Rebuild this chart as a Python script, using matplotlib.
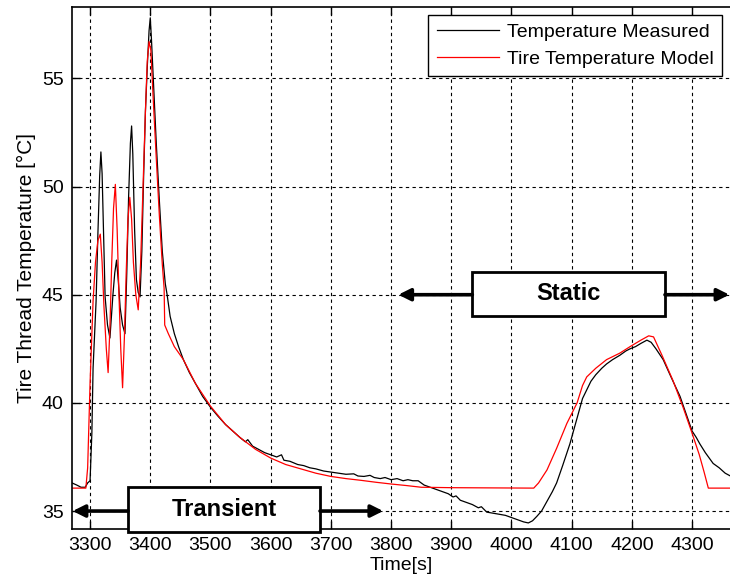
import matplotlib
matplotlib.use("Agg")
import matplotlib.pyplot as plt
from matplotlib.patches import Rectangle

plt.rcParams['font.family'] = ['Liberation Sans', 'DejaVu Sans']

# measured tire thread temperature (black)
meas_t = [3270, 3278, 3285, 3292, 3296, 3300, 3303, 3305, 3308, 3310, 3313, 3316, 3318, 3320,
          3322, 3325, 3329, 3333, 3336, 3338, 3341, 3344, 3347, 3350, 3354, 3358, 3361, 3364,
          3367, 3369, 3371, 3374, 3377, 3380, 3383, 3386, 3389, 3392, 3395, 3398, 3400, 3402,
          3405, 3410, 3415, 3420, 3425, 3428, 3433, 3440, 3447, 3455, 3465, 3475, 3487, 3500,
          3512, 3525, 3537, 3549, 3558, 3562, 3570, 3580, 3590, 3600, 3610, 3618, 3622, 3632,
          3645, 3655, 3665, 3675, 3688, 3700, 3712, 3725, 3738, 3745, 3755, 3765, 3772, 3782,
          3790, 3800, 3810, 3820, 3828, 3836, 3845, 3855, 3865, 3875, 3885, 3895, 3903, 3908,
          3915, 3925, 3935, 3945, 3950, 3959, 3970, 3980, 3990, 4000, 4010, 4020, 4028, 4035,
          4042, 4050, 4060, 4068, 4075, 4085, 4097, 4105, 4112, 4118, 4125, 4132, 4140, 4150,
          4158, 4168, 4180, 4190, 4197, 4206, 4215, 4225, 4232, 4240, 4252, 4265, 4280, 4290,
          4300, 4307, 4313, 4322, 4335, 4345, 4355, 4365]
meas_T = [36.3, 36.2, 36.1, 36.1, 36.3, 36.4, 38.6, 41.6, 43.5, 44.7, 47.8, 50.5, 51.6, 50.6,
          48.4, 44.9, 43.6, 43.0, 44.2, 45.0, 46.0, 46.6, 45.6, 44.4, 43.6, 43.2, 46.0, 49.5,
          52.0, 52.8, 51.5, 48.0, 45.7, 45.1, 44.9, 47.0, 50.5, 53.5, 55.5, 57.2, 57.8, 56.8,
          55.0, 52.0, 49.4, 47.0, 45.5, 45.0, 44.0, 43.2, 42.6, 42.0, 41.4, 40.9, 40.3, 39.8,
          39.4, 39.0, 38.7, 38.4, 38.2, 38.3, 38.0, 37.85, 37.7, 37.6, 37.5, 37.6, 37.35, 37.3,
          37.15, 37.1, 37.0, 36.95, 36.85, 36.8, 36.75, 36.7, 36.72, 36.62, 36.6, 36.65, 36.55, 36.5,
          36.55, 36.45, 36.5, 36.4, 36.45, 36.4, 36.4, 36.2, 36.1, 36.0, 35.9, 35.8, 35.65, 35.7,
          35.5, 35.4, 35.3, 35.15, 35.2, 34.95, 34.9, 34.85, 34.8, 34.7, 34.6, 34.5, 34.45, 34.55,
          34.75, 35.0, 35.5, 35.9, 36.3, 37.1, 38.1, 38.9, 39.6, 40.2, 40.6, 41.0, 41.3, 41.6,
          41.8, 42.0, 42.2, 42.4, 42.5, 42.6, 42.75, 42.9, 42.8, 42.5, 42.0, 41.2, 40.3, 39.5,
          38.7, 38.4, 38.1, 37.7, 37.2, 37.0, 36.75, 36.6]

# tire temperature model (red)
model_t = [3270, 3293, 3296, 3300, 3305, 3309, 3313, 3317, 3320, 3323, 3327, 3330, 3333, 3336,
           3339, 3342, 3345, 3348, 3351, 3354, 3357, 3360, 3363, 3366, 3369, 3372, 3376, 3380,
           3384, 3388, 3392, 3395, 3398, 3401, 3405, 3410, 3415, 3420, 3423, 3424, 3430, 3440,
           3455, 3475, 3500, 3525, 3549, 3575, 3600, 3625, 3650, 3675, 3700, 3725, 3750, 3775,
           3800, 3825, 3850, 3900, 4037, 4045, 4059, 4075, 4092, 4109, 4118, 4125, 4140, 4158,
           4180, 4197, 4215, 4228, 4236, 4250, 4268, 4285, 4300, 4312, 4320, 4327, 4365]
model_T = [36.06, 36.06, 37.0, 40.9, 44.7, 46.5, 47.5, 47.8, 46.5, 44.5, 42.5, 41.4, 43.5, 46.5,
           49.0, 50.1, 48.0, 45.0, 42.5, 40.7, 43.0, 46.0, 48.5, 49.5, 48.5, 46.5, 45.0, 44.3,
           46.5, 50.0, 53.5, 55.8, 56.7, 56.3, 54.0, 51.3, 48.7, 46.4, 45.3, 43.6, 43.2, 42.6,
           42.0, 40.9, 39.85, 39.0, 38.4, 37.85, 37.45, 37.15, 36.95, 36.75, 36.6, 36.5, 36.42, 36.33,
           36.25, 36.18, 36.1, 36.08, 36.06, 36.3, 36.9, 37.9, 39.05, 40.0, 40.8, 41.2, 41.6, 42.0,
           42.3, 42.6, 42.9, 43.1, 43.05, 42.2, 41.05, 39.8, 38.6, 37.6, 36.8, 36.06, 36.06]

xticks = [3300, 3400, 3500, 3600, 3700, 3800, 3900, 4000, 4100, 4200, 4300]
yticks = [35, 40, 45, 50, 55]

fig = plt.figure(figsize=(7.3, 5.85), dpi=100)
ax = fig.add_axes([72 / 730, 56 / 585, 658 / 730, 522 / 585])

ax.plot(meas_t, meas_T, color='black', lw=0.9, label='Temperature Measured')
ax.plot(model_t, model_T, color='red', lw=0.9, label='Tire Temperature Model')

ax.set_xlim(3270, 4363)
ax.set_ylim(34.17, 58.3)
ax.set_xticks(xticks)
ax.set_yticks(yticks)
ax.tick_params(direction='in', length=6, width=1, top=True, labelsize=14, pad=6)
ax.grid(True, color='black', linestyle=(0, (3, 3)), lw=0.8)
ax.set_axisbelow(True)
ax.spines['right'].set_visible(False)
for s in ['left', 'top', 'bottom']:
    ax.spines[s].set_linewidth(1.2)

ax.set_xlabel('Time[s]', fontsize=14, labelpad=2)
ax.set_ylabel('Tire Thread Temperature [°C]', fontsize=15, labelpad=4)

leg = ax.legend(loc='upper right', fontsize=14, fancybox=False, edgecolor='black',
                framealpha=1, handlelength=3.2, borderaxespad=0.4, borderpad=0.45,
                labelspacing=0.45, handletextpad=0.4)
leg.get_frame().set_linewidth(1.0)

# phase boxes with arrows
def phase(x0, x1, y0, y1, label, left_tip, right_tip, ymid):
    ax.add_patch(Rectangle((x0, y0), x1 - x0, y1 - y0, facecolor='white',
                           edgecolor='black', lw=2, zorder=5, clip_on=False))
    ax.text((x0 + x1) / 2, (y0 + y1) / 2, label, ha='center', va='center',
            fontsize=17, fontweight='bold', zorder=6)
    arrow = dict(arrowstyle='-|>', lw=2.6, color='black', mutation_scale=18,
                 shrinkA=0, shrinkB=0)
    ax.annotate('', xy=(left_tip, ymid), xytext=(x0, ymid), arrowprops=arrow,
                zorder=5, annotation_clip=False)
    ax.annotate('', xy=(right_tip, ymid), xytext=(x1, ymid), arrowprops=arrow,
                zorder=5, annotation_clip=False)

phase(3363, 3682, 34.03, 36.11, 'Transient', 3271, 3787, 35)
phase(3935, 4255, 44.02, 46.05, 'Static', 3812, 4362, 45)

fig.savefig('out.png', dpi=100)
